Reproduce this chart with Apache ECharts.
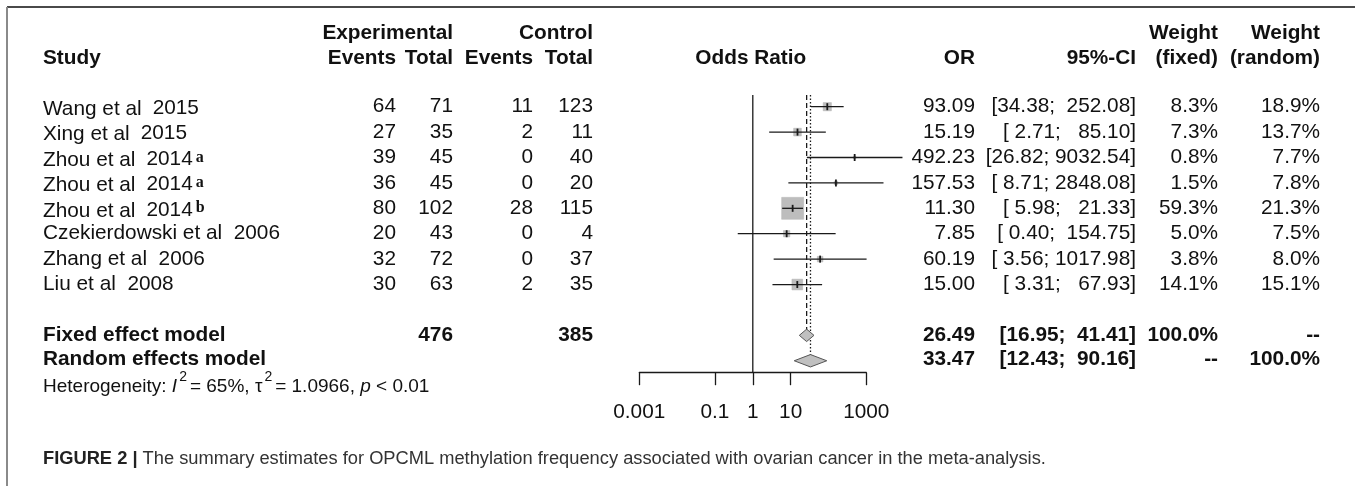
<!DOCTYPE html>
<html><head><meta charset="utf-8">
<script src="https://cdn.jsdelivr.net/npm/echarts@6/dist/echarts.min.js"></script>
<style>html,body{margin:0;padding:0;background:#fff}#c{width:1355px;height:486px}</style>
</head><body><div id="c"></div>
<script>
// ---- data ----
const studies = ['Wang et al','Xing et al','Zhou et al','Zhou et al','Zhou et al','Czekierdowski et al','Zhang et al','Liu et al'];
const years = ['2015','2015','2014','2014','2014','2006','2006','2008'];
const yearMath = [true,true,true,true,true,false,false,false];
const marks = ['','','a','a','b','','',''];
const expEvents = [64,27,39,36,80,20,32,30];
const expTotal = [71,35,45,45,102,43,72,63];
const ctrlEvents = [11,2,0,0,28,0,0,2];
const ctrlTotal = [123,11,40,20,115,4,37,35];
const oddsRatio = [93.09,15.19,492.23,157.53,11.30,7.85,60.19,15.00];
const ciLower = [34.38,2.71,26.82,8.71,5.98,0.40,3.56,3.31];
const ciUpper = [252.08,85.10,9032.54,2848.08,21.33,154.75,1017.98,67.93];
const weightFixed = [8.3,7.3,0.8,1.5,59.3,5.0,3.8,14.1];
const weightRandom = [18.9,13.7,7.7,7.8,21.3,7.5,8.0,15.1];
const modelNames = ['Fixed effect model','Random effects model'];
const modelOR = [26.49,33.47];
const modelLower = [16.95,12.43];
const modelUpper = [41.41,90.16];
const modelWFixed = ['100.0%','--'];
const modelWRandom = ['--','100.0%'];
const totalExp = 476, totalCtrl = 385;
const tickValues = [0.001,0.1,1,10,1000];
const tickLabels = ['0.001','0.1','1','10','1000'];

// ---- layout ----
const FONT = "'Liberation Sans', Arial, Helvetica, sans-serif";
const FS = 20.8;
const L = v => Math.log10(v);
const Y_TOP = -0.46, Y_BOT = 10.47;
const FIXED_ROW = 9, RANDOM_ROW = 10, HET_ROW = 11;
const SQ_K = 2.85;
const tickLogs = tickValues.map(L);

function fmt(v, d, w){ let s = v.toFixed(d); while (s.length < w) s = ' ' + s; return s; }
function ciStr(lo, hi){ return '[' + fmt(lo,2,5) + '; ' + fmt(hi,2,7) + ']'; }

const chart = echarts.init(document.getElementById('c'), null, {renderer:'canvas'});
const lineCol = '#1a1a1a';
const option = {
  animation: false,
  grid: {left: 639.3, width: 227, top: 95, height: 277.7},
  xAxis: {
    type: 'value', min: -3, max: 3,
    axisLine: {onZero: false, lineStyle: {color: lineCol, width: 1.3}},
    axisTick: {customValues: tickLogs, length: 12.5, lineStyle: {color: lineCol, width: 1.3}},
    axisLabel: {customValues: tickLogs, margin: 29, fontSize: FS, color: '#111', fontFamily: FONT,
      formatter: v => { for (let k = 0; k < tickLogs.length; k++) if (Math.abs(tickLogs[k]-v) < 1e-6) return tickLabels[k]; return ''; }},
    splitLine: {show: false}
  },
  yAxis: {type: 'value', inverse: true, min: Y_TOP, max: Y_BOT, show: false},
  series: [
    {type:'line', symbol:'none', silent:true, z:1, data:[[0,Y_TOP],[0,Y_BOT]], lineStyle:{color:lineCol,width:1.3}},
    {type:'line', symbol:'none', silent:true, z:1, data:[[L(modelOR[0]),Y_TOP],[L(modelOR[0]),FIXED_ROW]], lineStyle:{color:lineCol,width:1.3,type:[5,3]}},
    {type:'line', symbol:'none', silent:true, z:1, data:[[L(modelOR[1]),Y_TOP],[L(modelOR[1]),RANDOM_ROW]], lineStyle:{color:lineCol,width:1.3,type:[1.5,2]}},
    {type:'custom', clip:false, z:3, silent:true,
      data: oddsRatio.map((o,i)=>[L(o), i, L(ciLower[i]), L(ciUpper[i]), weightFixed[i]]),
      renderItem: (params, api) => {
        const c = api.coord([api.value(0), api.value(1)]);
        const a = api.coord([api.value(2), api.value(1)]);
        const b = api.coord([api.value(3), api.value(1)]);
        const s = SQ_K * Math.sqrt(api.value(4));
        return {type:'group', children:[
          {type:'rect', shape:{x:c[0]-s/2, y:c[1]-s/2, width:s, height:s}, style:{fill:'#bdbdbd', stroke:'#b0b0b0', lineWidth:0.5}},
          {type:'line', shape:{x1:a[0], y1:a[1], x2:b[0], y2:b[1]}, style:{stroke:lineCol, lineWidth:1.3}},
          {type:'line', shape:{x1:c[0], y1:c[1]-3.5, x2:c[0], y2:c[1]+3.5}, style:{stroke:lineCol, lineWidth:1.8}}
        ]};
      }
    },
    {type:'custom', clip:false, z:4, silent:true,
      data: modelOR.map((o,i)=>[L(o), FIXED_ROW+i, L(modelLower[i]), L(modelUpper[i])]),
      renderItem: (params, api) => {
        const c = api.coord([api.value(0), api.value(1)]);
        const a = api.coord([api.value(2), api.value(1)]);
        const b = api.coord([api.value(3), api.value(1)]);
        const h = 6.2;
        return {type:'polygon', shape:{points:[[a[0],c[1]],[c[0],c[1]-h],[b[0],c[1]],[c[0],c[1]+h]]}, style:{fill:'#c0c0c0', stroke:'#555', lineWidth:1}};
      }
    }
  ]
};
chart.setOption(option);

const rowY = i => chart.convertToPixel({gridIndex:0}, [0, i])[1];
const axX = v => chart.convertToPixel({gridIndex:0}, [v, 0])[0];

function T(x, y, text, o){
  o = o || {};
  const st = {text:String(text), fill:o.fill||'#111', fontSize:o.fs||FS, fontFamily:o.ff||FONT,
    fontWeight:o.bold?'bold':'normal', align:o.align||'left', textAlign:o.align||'left',
    verticalAlign:'middle', textVerticalAlign:'middle'};
  if (o.rich) st.rich = o.rich;
  return {type:'text', x:x, y:y, silent:true, style:st};
}

const COL = {name:43, expE:396, expT:453, ctlE:533, ctlT:593, or:975, ci:1136, wf:1218, wr:1320};
const H1 = 33, H2 = 58;
const g = [];
// frame
g.push({type:'line', silent:true, shape:{x1:7,y1:7,x2:1355,y2:7}, style:{stroke:'#4a4a4a', lineWidth:2}});
g.push({type:'line', silent:true, shape:{x1:7,y1:7,x2:7,y2:486}, style:{stroke:'#8a8a8a', lineWidth:2}});
// headers
g.push(T(COL.expT, H1, 'Experimental', {bold:true, align:'right'}));
g.push(T(COL.ctlT, H1, 'Control', {bold:true, align:'right'}));
g.push(T(COL.wf, H1, 'Weight', {bold:true, align:'right'}));
g.push(T(COL.wr, H1, 'Weight', {bold:true, align:'right'}));
g.push(T(COL.name, H2, 'Study', {bold:true}));
g.push(T(COL.expE, H2, 'Events', {bold:true, align:'right'}));
g.push(T(COL.expT, H2, 'Total', {bold:true, align:'right'}));
g.push(T(COL.ctlE, H2, 'Events', {bold:true, align:'right'}));
g.push(T(COL.ctlT, H2, 'Total', {bold:true, align:'right'}));
g.push(T(axX(0) - 2, H2, 'Odds Ratio', {bold:true, align:'center'}));
g.push(T(COL.or, H2, 'OR', {bold:true, align:'right'}));
g.push(T(COL.ci, H2, '95%-CI', {bold:true, align:'right'}));
g.push(T(COL.wf, H2, '(fixed)', {bold:true, align:'right'}));
g.push(T(COL.wr, H2, '(random)', {bold:true, align:'right'}));

const studyRich = {
  n: {fontSize:FS, fontFamily:FONT, lineHeight:20, verticalAlign:'top', fill:'#111'},
  y: {fontSize:FS, fontFamily:FONT, lineHeight:20, verticalAlign:'bottom', padding:[0,0,0,11], fill:'#111'},
  s: {fontSize:16, fontFamily:"'Liberation Serif', 'DejaVu Serif', serif", fontWeight:'bold', lineHeight:13, verticalAlign:'top', padding:[0,0,0,3], fill:'#111'}
};
for (let i = 0; i < studies.length; i++){
  const y = rowY(i);
  if (yearMath[i]){
    let t = '{n|' + studies[i] + '}{y|' + years[i] + '}';
    if (marks[i]) t += '{s|' + marks[i] + '}';
    const el = T(COL.name, y + 2, t, {rich: studyRich});
    el.style.lineHeight = 24;
    g.push(el);
  } else {
    g.push(T(COL.name, y, studies[i] + '  ' + years[i]));
  }
  g.push(T(COL.expE, y, expEvents[i], {align:'right'}));
  g.push(T(COL.expT, y, expTotal[i], {align:'right'}));
  g.push(T(COL.ctlE, y, ctrlEvents[i], {align:'right'}));
  g.push(T(COL.ctlT, y, ctrlTotal[i], {align:'right'}));
  g.push(T(COL.or, y, oddsRatio[i].toFixed(2), {align:'right'}));
  g.push(T(COL.ci, y, ciStr(ciLower[i], ciUpper[i]), {align:'right'}));
  g.push(T(COL.wf, y, weightFixed[i].toFixed(1) + '%', {align:'right'}));
  g.push(T(COL.wr, y, weightRandom[i].toFixed(1) + '%', {align:'right'}));
}
for (let m = 0; m < modelNames.length; m++){
  const y = rowY(FIXED_ROW + m) - (m === 1 ? 1.5 : 0);
  g.push(T(COL.name, y, modelNames[m], {bold:true}));
  if (m === 0){
    g.push(T(COL.expT, y, totalExp, {bold:true, align:'right'}));
    g.push(T(COL.ctlT, y, totalCtrl, {bold:true, align:'right'}));
  }
  g.push(T(COL.or, y, modelOR[m].toFixed(2), {bold:true, align:'right'}));
  g.push(T(COL.ci, y, '[' + modelLower[m].toFixed(2) + ';  ' + modelUpper[m].toFixed(2) + ']', {bold:true, align:'right'}));
  g.push(T(COL.wf, y, modelWFixed[m], {bold:true, align:'right'}));
  g.push(T(COL.wr, y, modelWRandom[m], {bold:true, align:'right'}));
}
// heterogeneity
const HF = 19;
const hetRich = {
  r: {fontSize:HF, fontFamily:FONT, lineHeight:26, verticalAlign:'bottom', fill:'#111'},
  i: {fontSize:HF, fontFamily:FONT, fontStyle:'italic', lineHeight:26, verticalAlign:'bottom', fill:'#111'},
  s: {fontSize:14, fontFamily:FONT, lineHeight:12, verticalAlign:'top', fill:'#111', padding:[0,3,0,2]}
};
const het = T(COL.name, rowY(HET_ROW) - 3, '{r|Heterogeneity: }{i|I}{s|2}{r|= 65%, τ}{s|2}{r|= 1.0966, }{i|p}{r| < 0.01}', {rich:hetRich});
g.push(het);
// caption
const capRich = {
  b: {fontSize:18.3, fontFamily:FONT, fontWeight:'bold', fill:'#222'},
  r: {fontSize:18.3, fontFamily:FONT, fill:'#333'}
};
g.push(T(COL.name, 459, '{b|FIGURE 2 |}{r| The summary estimates for OPCML methylation frequency associated with ovarian cancer in the meta-analysis.}', {rich:capRich}));

chart.setOption({graphic: g});
</script></body></html>
